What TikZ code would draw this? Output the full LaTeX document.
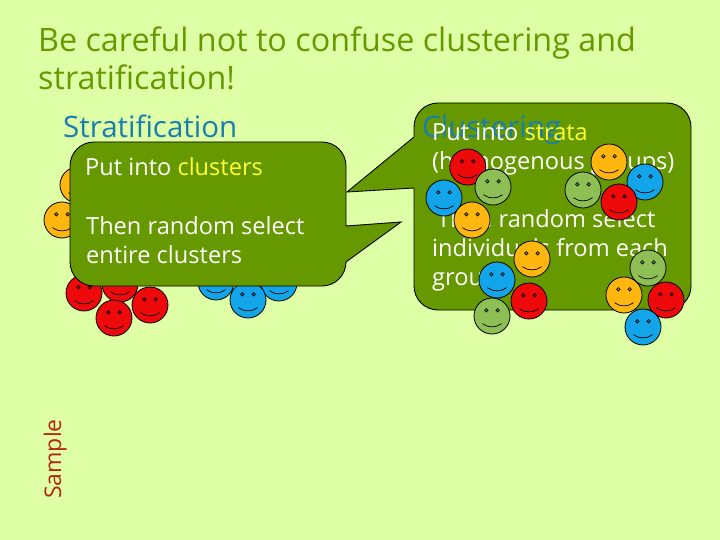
\documentclass[tikz,border=0pt]{standalone}
\usepackage{fontspec}
\setmainfont{Open Sans}
\definecolor{pagebg}{HTML}{DFFFA6}
\definecolor{olive}{HTML}{669900}
\definecolor{headblue}{HTML}{1A7DB0}
\definecolor{samplered}{HTML}{B3260F}
\definecolor{hiyellow}{HTML}{FFFF33}
\definecolor{fred}{HTML}{EE0A0A}
\definecolor{fblue}{HTML}{12A5EA}
\definecolor{fgreen}{HTML}{8DBF55}
\definecolor{forange}{HTML}{FFB70F}
\tikzset{
  callout/.style={draw=black,fill=olive,line width=0.9pt},
  title/.style={anchor=base west,inner sep=0pt,text=olive,font=\fontsize{32.3}{32.3}\selectfont},
  head/.style={anchor=base west,inner sep=0pt,text=headblue,font=\fontsize{29.5}{29.5}\selectfont},
  body/.style={anchor=base west,inner sep=0pt,text=white,font=\fontsize{23.6}{23.6}\selectfont},
  face/.style={shape=circle,draw=black,line width=0.8pt,minimum size=36pt,inner sep=0pt},
}
% one smiling face: name, colour, x, y
\newcommand{\smiley}[4]{%
  \node[face,fill=#2] (#1) at (#3,#4) {};
  \draw[line width=0.6pt,fill=#2!70!black] (#3-5.7,#4-5.7) circle (1.8);
  \draw[line width=0.6pt,fill=#2!70!black] (#3+5.7,#4-5.7) circle (1.8);
  \draw[line width=0.7pt] (#3-9.5,#4+7.7) .. controls (#3-4,#4+12) and (#3+4,#4+12) .. (#3+9.5,#4+7.7);
}
\begin{document}
\begin{tikzpicture}[x=1pt,y=-1pt]
\fill[pagebg] (0,0) rectangle (720,540);
\useasboundingbox (0,0) rectangle (720,540);
\node[title] (titleA) at (38,52) {Be careful not to confuse clustering and};
\node[title] (titleB) at (38,90) {stratification!};
\node[anchor=base,rotate=90,inner sep=0pt,text=samplered,font=\fontsize{23}{23}\selectfont] (sample) at (61,459) {Sample};
% left faces, under the first callout
\foreach \n/\c/\px/\py in {a/forange/78/185,b/forange/62/220,c/fred/84/293,d/fred/120/284,
    e/fred/150/305,f/fred/114/318,g/fblue/216/282,h/fblue/279/283,i/fblue/248/300}{
  \smiley{l\n}{\c}{\px}{\py}
}
\node[head] (strat) at (63,138) {Stratification};
% second callout
\draw[callout] (414,188) -- (347,192) -- (414,137) -- (414,127) arc (180:270:24) -- (667,103)
  arc (270:360:24) -- (691,286) arc (0:90:24) -- (438,310) arc (90:180:24) -- cycle;
\node[head] (clust) at (422,138) {Clustering};
\node[body] (strataA) at (432,141) {Put into \textcolor{hiyellow}{strata}};
\node[body] (strataB) at (432,170) {(homogenous groups)};
\node[body] (strataC) at (437,227) {Then random select};
\node[body] (strataD) at (432,256) {individuals from each};
\node[body] (strataE) at (432,285) {groups};
% first callout
\draw[callout] (346,226) -- (401,222) -- (346,262) arc (0:90:24) -- (94,286) arc (90:180:24)
  -- (70,166) arc (180:270:24) -- (322,142) arc (270:360:24) -- cycle;
\node[body] (clusA) at (85,176) {Put into \textcolor{hiyellow}{clusters}};
\node[body] (clusB) at (86,234) {Then random select};
\node[body] (clusC) at (86,263) {entire clusters};
% right faces, over everything
\foreach \n/\c/\px/\py in {a/fred/467.7/167,b/fgreen/493/187,c/fblue/444/198,d/forange/472/220,
    e/forange/609/162,f/fblue/645/182,g/fgreen/583/190,h/fred/619/202,
    i/forange/532/259,j/fblue/497/280,k/fred/529/301,m/fgreen/492/316,
    n/fgreen/648/268,o/forange/624/295,p/fred/666/300,q/fblue/643/327}{
  \smiley{r\n}{\c}{\px}{\py}
}
\end{tikzpicture}
\end{document}
